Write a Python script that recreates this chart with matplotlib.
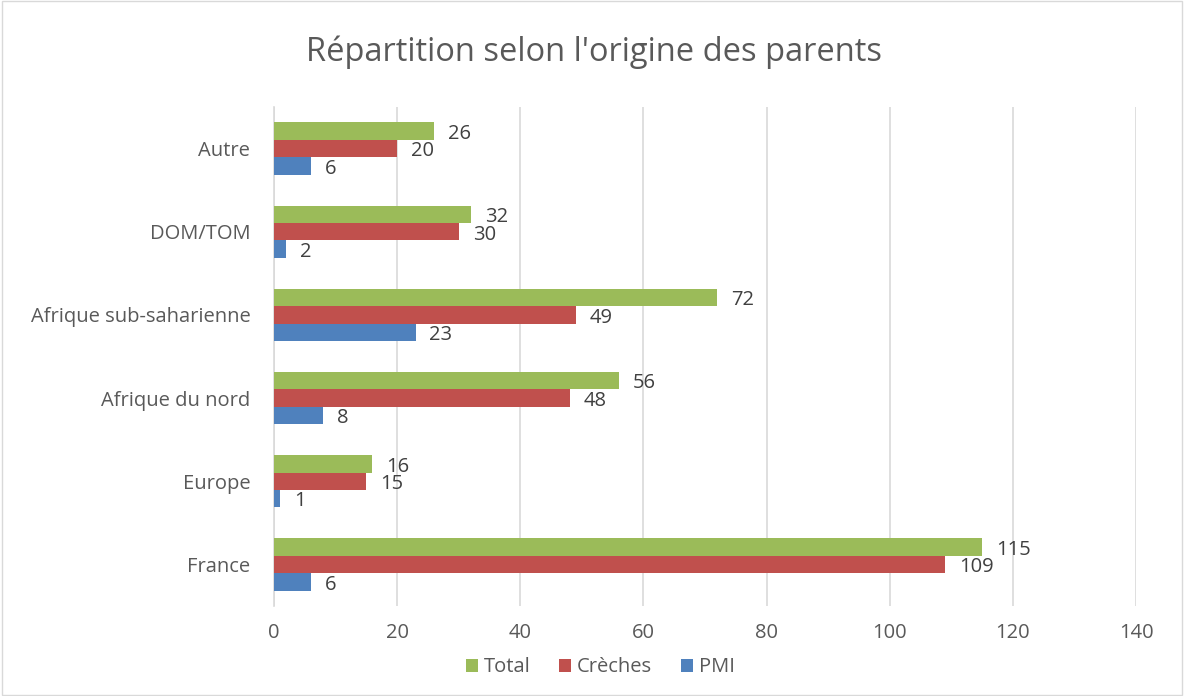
import matplotlib
matplotlib.use("Agg")
import matplotlib.pyplot as plt
import numpy as np
from matplotlib.patches import Rectangle

plt.rcParams['font.family'] = ['Open Sans', 'DejaVu Sans']

categories = ["France", "Europe", "Afrique du nord", "Afrique sub-saharienne", "DOM/TOM", "Autre"]
pmi = [6, 1, 8, 23, 2, 6]
creches = [109, 15, 48, 49, 30, 20]
total = [115, 16, 56, 72, 32, 26]
series_names = ["Total", "Crèches", "PMI"]
colors = {"Total": "#9BBB59", "Crèches": "#C0504D", "PMI": "#4F81BD"}
xticks = [0, 20, 40, 60, 80, 100, 120, 140]

fig = plt.figure(figsize=(11.84, 6.96), dpi=100)
fig.patches.append(Rectangle((0.002, 0.002), 0.996, 0.996, transform=fig.transFigure,
                             fill=False, edgecolor="#D9D9D9", linewidth=1.0))
ax = fig.add_axes([0.2314, 0.1293, 0.7281, 0.717])

y = np.arange(len(categories))
h = 0.21
text_color = "#595959"
data = {"Total": total, "Crèches": creches, "PMI": pmi}
offsets = {"Total": h, "Crèches": 0.0, "PMI": -h}
for name in series_names:
    vals = data[name]
    ax.barh(y + offsets[name], vals, height=h, color=colors[name], label=name, zorder=3)
    for yi, v in zip(y, vals):
        ax.annotate(str(v), (v, yi + offsets[name]), xytext=(10, -2), textcoords="offset points",
                    ha="left", va="center", fontsize=14.5, color="#404040", zorder=4)

ax.set_xlim(0, 140)
ax.set_ylim(-0.5, len(categories) - 0.5)
ax.set_xticks(xticks)
ax.set_xticklabels([str(t) for t in xticks])
ax.set_yticks(y)
ax.set_yticklabels(categories)
ax.tick_params(axis="both", length=0, labelsize=14.5, labelcolor=text_color)
ax.tick_params(axis="x", pad=12)
ax.tick_params(axis="y", pad=17)
ax.grid(axis="x", color="#D9D9D9", linewidth=1.2, zorder=0)
for s in ["top", "right", "bottom"]:
    ax.spines[s].set_visible(False)
ax.spines["left"].set_color("#D9D9D9")
ax.spines["left"].set_linewidth(1.2)

fig.text(0.502, 0.925, "Répartition selon l'origine des parents", ha="center", va="center",
         fontsize=23.5, color=text_color)

handles, labels = ax.get_legend_handles_labels()
fig.legend(handles, labels, loc="center", bbox_to_anchor=(0.507, 0.041), ncol=3, frameon=False,
           fontsize=14.5, labelcolor=text_color, handlelength=0.6, handleheight=0.6,
           handletextpad=0.3, columnspacing=1.4)

fig.savefig("out.png", dpi=100, facecolor="white")
